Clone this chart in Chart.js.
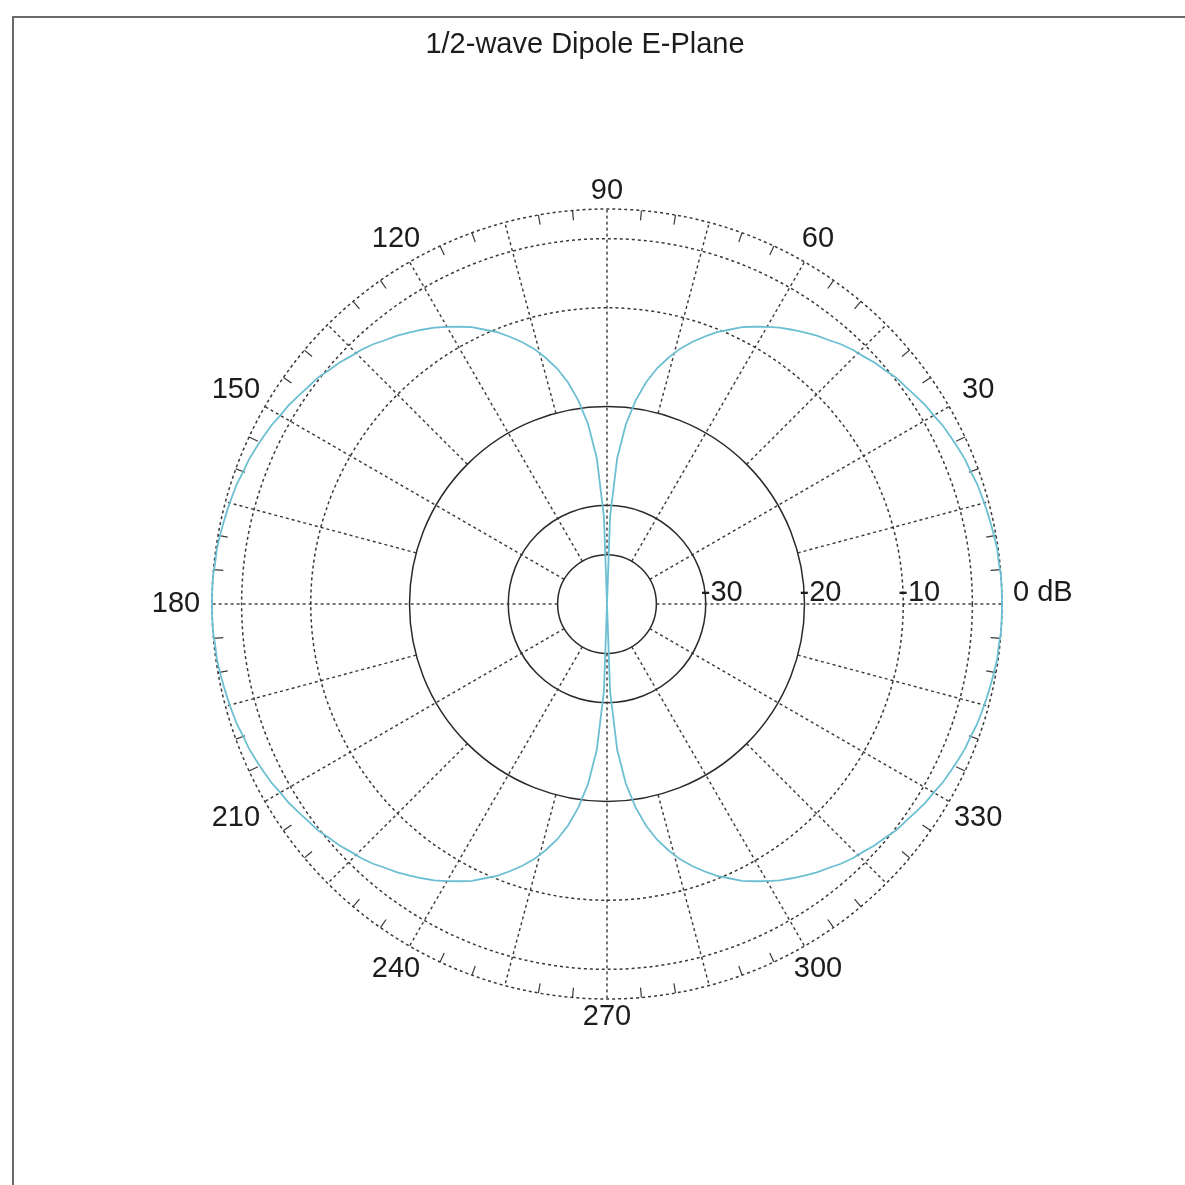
<!DOCTYPE html>
<html>
<head>
<meta charset="utf-8">
<title>1/2-wave Dipole E-Plane</title>
<script src="https://cdn.jsdelivr.net/npm/chart.js@4/dist/chart.umd.min.js"></script>
<style>
  html, body { margin: 0; padding: 0; background: #fff; }
  canvas { display: block; }
</style>
</head>
<body>
<canvas id="polarChart" width="1185" height="1185"></canvas>
<script>
// E-plane pattern in dB, sampled every 2 degrees counter-clockwise from 0 (floor at -40 dB)
const stepDeg = 2;
const gainQ1 = [0.0, 0.0, 0.0, -0.1, -0.1, -0.2, -0.3, -0.4, -0.5, -0.6,
                -0.8, -0.9, -1.1, -1.3, -1.5, -1.8, -2.0, -2.3, -2.6, -2.8,
                -3.2, -3.5, -3.9, -4.2, -4.6, -5.1, -5.5, -6.0, -6.5, -7.0,
                -7.6, -8.2, -8.8, -9.6, -10.3, -11.2, -12.1, -13.1, -14.3, -15.6,
                -17.2, -19.2, -21.7, -25.2, -31.2];                       // 0 .. 88
const gainQ2 = [-40, -31.2, -25.2, -21.7, -19.2, -17.2, -15.6, -14.3, -13.1, -12.1,
                -11.2, -10.3, -9.6, -8.8, -8.2, -7.6, -7.0, -6.5, -6.0, -5.5,
                -5.1, -4.6, -4.2, -3.9, -3.5, -3.2, -2.8, -2.6, -2.3, -2.0,
                -1.8, -1.5, -1.3, -1.1, -0.9, -0.8, -0.6, -0.5, -0.4, -0.3,
                -0.2, -0.1, -0.1, 0.0, 0.0];                               // 90 .. 178
const gainQ3 = [0.0, 0.0, 0.0, -0.1, -0.1, -0.2, -0.3, -0.4, -0.5, -0.6,
                -0.8, -0.9, -1.1, -1.3, -1.5, -1.8, -2.0, -2.3, -2.6, -2.8,
                -3.2, -3.5, -3.9, -4.2, -4.6, -5.1, -5.5, -6.0, -6.5, -7.0,
                -7.6, -8.2, -8.8, -9.6, -10.3, -11.2, -12.1, -13.1, -14.3, -15.6,
                -17.2, -19.2, -21.7, -25.2, -31.2];                       // 180 .. 268
const gainQ4 = [-40, -31.2, -25.2, -21.7, -19.2, -17.2, -15.6, -14.3, -13.1, -12.1,
                -11.2, -10.3, -9.6, -8.8, -8.2, -7.6, -7.0, -6.5, -6.0, -5.5,
                -5.1, -4.6, -4.2, -3.9, -3.5, -3.2, -2.8, -2.6, -2.3, -2.0,
                -1.8, -1.5, -1.3, -1.1, -0.9, -0.8, -0.6, -0.5, -0.4, -0.3,
                -0.2, -0.1, -0.1, 0.0, 0.0];                               // 270 .. 358

// rings of the dB grid (-40 is the centre)
const ringValues = [-40, -35, -30, -20, -10, -3, 0];
const solidRings = [-35, -30, -20];
const radialLabelValues = [-30, -20, -10, 0];
const radialLabels = ['-30', '-20', '-10', '0 dB'];
const angleLabels = ['30', '60', '90', '120', '150', '180', '210', '240', '270', '300', '330'];

const titleText = '1/2-wave Dipole E-Plane';
const fontFamily = '"Liberation Sans", Arial, Helvetica, sans-serif';
const inkColor = '#1c1c1c';

const gain = [...gainQ1, ...gainQ2, ...gainQ3, ...gainQ4];
const n = gain.length;
// radar scale goes clockwise, so walk the samples backwards to get counter-clockwise angles
const order = gain.map((_, i) => (n - i) % n);
const labels = order.map(k => k * stepDeg);
const values = order.map(k => gain[k]);

function polarXY(scale, deg, dB) {
    const r = scale.getDistanceFromCenterForValue(dB);
    const a = deg * Math.PI / 180;
    return { x: scale.xCenter + r * Math.cos(a), y: scale.yCenter - r * Math.sin(a) };
}

const polarDecor = {
    id: 'polarDecor',
    beforeDraw(chart) {
        // figure frame (left and top edges)
        const ctx = chart.ctx;
        ctx.save();
        ctx.strokeStyle = '#6a6a6a';
        ctx.lineWidth = 2;
        ctx.beginPath();
        ctx.moveTo(13, chart.height);
        ctx.lineTo(13, 17);
        ctx.lineTo(chart.width, 17);
        ctx.stroke();
        ctx.restore();
    },
    beforeDatasetsDraw(chart) {
        const s = chart.scales.r;
        const ctx = chart.ctx;
        ctx.save();
        ctx.strokeStyle = '#383838';
        ctx.lineWidth = 1.4;
        ctx.setLineDash([3, 3]);
        // spokes: every 30 deg from the -35 ring, the 15 deg ones from the -20 ring
        for (let d = 0; d < 360; d += 15) {
            const from = polarXY(s, d, d % 30 === 0 ? -35 : -20);
            const to = polarXY(s, d, 0);
            ctx.beginPath();
            ctx.moveTo(from.x, from.y);
            ctx.lineTo(to.x, to.y);
            ctx.stroke();
        }
        // small 5 deg ticks inside the outer ring
        ctx.setLineDash([]);
        ctx.lineWidth = 1.2;
        for (let d = 0; d < 360; d += 5) {
            if (d % 15 === 0) continue;
            const from = polarXY(s, d, 0);
            const to = polarXY(s, d, -1);
            ctx.beginPath();
            ctx.moveTo(from.x, from.y);
            ctx.lineTo(to.x, to.y);
            ctx.stroke();
        }
        ctx.restore();
    },
    afterDraw(chart) {
        const s = chart.scales.r;
        const ctx = chart.ctx;
        ctx.save();
        ctx.fillStyle = inkColor;
        ctx.font = '29px ' + fontFamily;
        ctx.textBaseline = 'middle';

        // title
        ctx.textAlign = 'center';
        ctx.fillText(titleText, 585, 45);

        // angle labels around the rim, pushed out further at the sides
        const rim = s.getDistanceFromCenterForValue(0);
        angleLabels.forEach(txt => {
            const a = Number(txt) * Math.PI / 180;
            const r = rim + 18 + 18 * Math.abs(Math.cos(a));
            ctx.fillText(txt, s.xCenter + r * Math.cos(a), s.yCenter - r * Math.sin(a));
        });

        // dB labels along the 0 deg spoke
        ctx.textAlign = 'left';
        radialLabelValues.forEach((v, i) => {
            const p = polarXY(s, 0, v);
            const dx = v === 0 ? 11 : -5;
            ctx.fillText(radialLabels[i], p.x + dx, p.y - 11);
        });
        ctx.restore();
    }
};

new Chart(document.getElementById('polarChart'), {
    type: 'radar',
    data: {
        labels: labels,
        datasets: [{
            label: 'E-plane',
            data: values,
            borderColor: '#6cbfd2',
            borderWidth: 1.8,
            pointRadius: 0,
            pointHitRadius: 0,
            fill: false,
            tension: 0
        }]
    },
    options: {
        responsive: false,
        animation: false,
        devicePixelRatio: 1,
        layout: {
            padding: { left: 212, right: 183, top: 209, bottom: 186 }
        },
        plugins: {
            legend: { display: false },
            title: { display: false },
            tooltip: { enabled: false }
        },
        scales: {
            r: {
                min: -40,
                max: 0,
                startAngle: 90,
                afterBuildTicks: (axis) => {
                    axis.ticks = ringValues.map(value => ({ value }));
                },
                ticks: { display: false },
                pointLabels: { display: false },
                angleLines: { display: false },
                grid: {
                    circular: true,
                    color: (c) => solidRings.includes(c.tick && c.tick.value) ? '#2a2a2a' : '#383838',
                    lineWidth: (c) => (c.tick && c.tick.value === -40) ? 0 : 1.5
                },
                border: {
                    dash: (c) => solidRings.includes(c.tick && c.tick.value) ? [] : [3, 3]
                }
            }
        }
    },
    plugins: [polarDecor]
});
</script>
</body>
</html>
